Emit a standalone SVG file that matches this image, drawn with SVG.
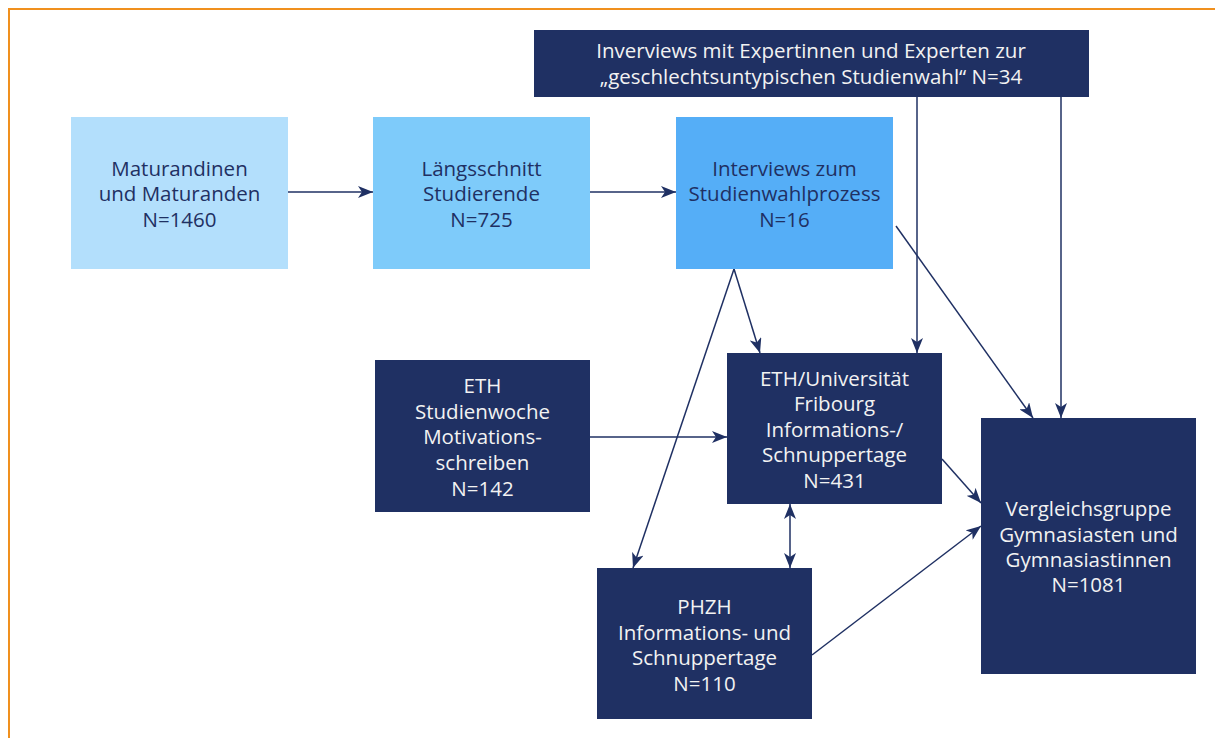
<svg xmlns="http://www.w3.org/2000/svg" width="1215" height="738" viewBox="0 0 1215 738">
  <defs>
    <marker id="arrow" viewBox="0 0 15 12" refX="15" refY="6" markerWidth="15" markerHeight="12" markerUnits="userSpaceOnUse" orient="auto-start-reverse">
      <path d="M0,0 L15,6 L0,12 L4,6 z" fill="#1f3063"/>
    </marker>
  </defs>
  <style>
    .frame { fill: none; stroke: #f0901e; stroke-width: 2; }
    .dark { fill: #1f3063; }
    .c1 { fill: #b3dffc; }
    .c2 { fill: #7ecbfa; }
    .c3 { fill: #55aef7; }
    text { font-family: "Open Sans", "Noto Sans", "DejaVu Sans", sans-serif; font-size: 20.5px; text-anchor: middle; }
    .tl { fill: #1f3063; }
    .tw { fill: #f2f2f2; }
    .conn line { stroke: #1f3063; stroke-width: 1.5; fill: none; }
  </style>

  <rect class="frame" x="9" y="9" width="1220" height="740"/>

  <!-- connectors -->
  <g id="connectors" class="conn">
    <line x1="288" y1="192" x2="373" y2="192" marker-end="url(#arrow)"/>
    <line x1="590" y1="192" x2="676" y2="192" marker-end="url(#arrow)"/>
    <line x1="734" y1="269" x2="760" y2="353" marker-end="url(#arrow)"/>
    <line x1="734" y1="269" x2="633" y2="568" marker-end="url(#arrow)"/>
    <line x1="917" y1="97" x2="917" y2="353" marker-end="url(#arrow)"/>
    <line x1="1061" y1="97" x2="1061" y2="418" marker-end="url(#arrow)"/>
    <line x1="896" y1="226" x2="1033" y2="418" marker-end="url(#arrow)"/>
    <line x1="590" y1="437" x2="727" y2="437" marker-end="url(#arrow)"/>
    <line x1="942" y1="459" x2="981" y2="503" marker-end="url(#arrow)"/>
    <line x1="812" y1="655" x2="981" y2="526" marker-end="url(#arrow)"/>
    <line x1="790" y1="504" x2="790" y2="568" marker-start="url(#arrow)" marker-end="url(#arrow)"/>
  </g>

  <g id="experten">
    <rect class="dark" x="534" y="30" width="555" height="67"/>
    <text class="tw" x="811" y="58">Inverviews mit Expertinnen und Experten zur</text>
    <text class="tw" x="811" y="84">„geschlechtsuntypischen Studienwahl“ N=34</text>
  </g>

  <g id="maturanden">
    <rect class="c1" x="71" y="117" width="217" height="152"/>
    <text class="tl" x="179.5" y="176">Maturandinen</text>
    <text class="tl" x="179.5" y="201">und Maturanden</text>
    <text class="tl" x="179.5" y="227">N=1460</text>
  </g>

  <g id="laengsschnitt">
    <rect class="c2" x="373" y="117" width="217" height="152"/>
    <text class="tl" x="481.5" y="176">Längsschnitt</text>
    <text class="tl" x="481.5" y="201">Studierende</text>
    <text class="tl" x="481.5" y="227">N=725</text>
  </g>

  <g id="studienwahlprozess">
    <rect class="c3" x="676" y="117" width="217" height="152"/>
    <text class="tl" x="784.5" y="176">Interviews zum</text>
    <text class="tl" x="784.5" y="201">Studienwahlprozess</text>
    <text class="tl" x="784.5" y="227">N=16</text>
  </g>

  <g id="eth-studienwoche">
    <rect class="dark" x="375" y="360" width="215" height="152"/>
    <text class="tw" x="482.5" y="393">ETH</text>
    <text class="tw" x="482.5" y="419">Studienwoche</text>
    <text class="tw" x="482.5" y="444">Motivations-</text>
    <text class="tw" x="482.5" y="470">schreiben</text>
    <text class="tw" x="482.5" y="496">N=142</text>
  </g>

  <g id="eth-fribourg">
    <rect class="dark" x="727" y="353" width="215" height="151"/>
    <text class="tw" x="834.5" y="386">ETH/Universität</text>
    <text class="tw" x="834.5" y="411">Fribourg</text>
    <text class="tw" x="834.5" y="437">Informations-/</text>
    <text class="tw" x="834.5" y="462">Schnuppertage</text>
    <text class="tw" x="834.5" y="488">N=431</text>
  </g>

  <g id="phzh">
    <rect class="dark" x="597" y="568" width="215" height="151"/>
    <text class="tw" x="704.5" y="614">PHZH</text>
    <text class="tw" x="704.5" y="640">Informations- und</text>
    <text class="tw" x="704.5" y="665">Schnuppertage</text>
    <text class="tw" x="704.5" y="691">N=110</text>
  </g>

  <g id="vergleichsgruppe">
    <rect class="dark" x="981" y="418" width="215" height="256"/>
    <text class="tw" x="1088.5" y="516">Vergleichsgruppe</text>
    <text class="tw" x="1088.5" y="542">Gymnasiasten und</text>
    <text class="tw" x="1088.5" y="567">Gymnasiastinnen</text>
    <text class="tw" x="1088.5" y="592">N=1081</text>
  </g>
</svg>
